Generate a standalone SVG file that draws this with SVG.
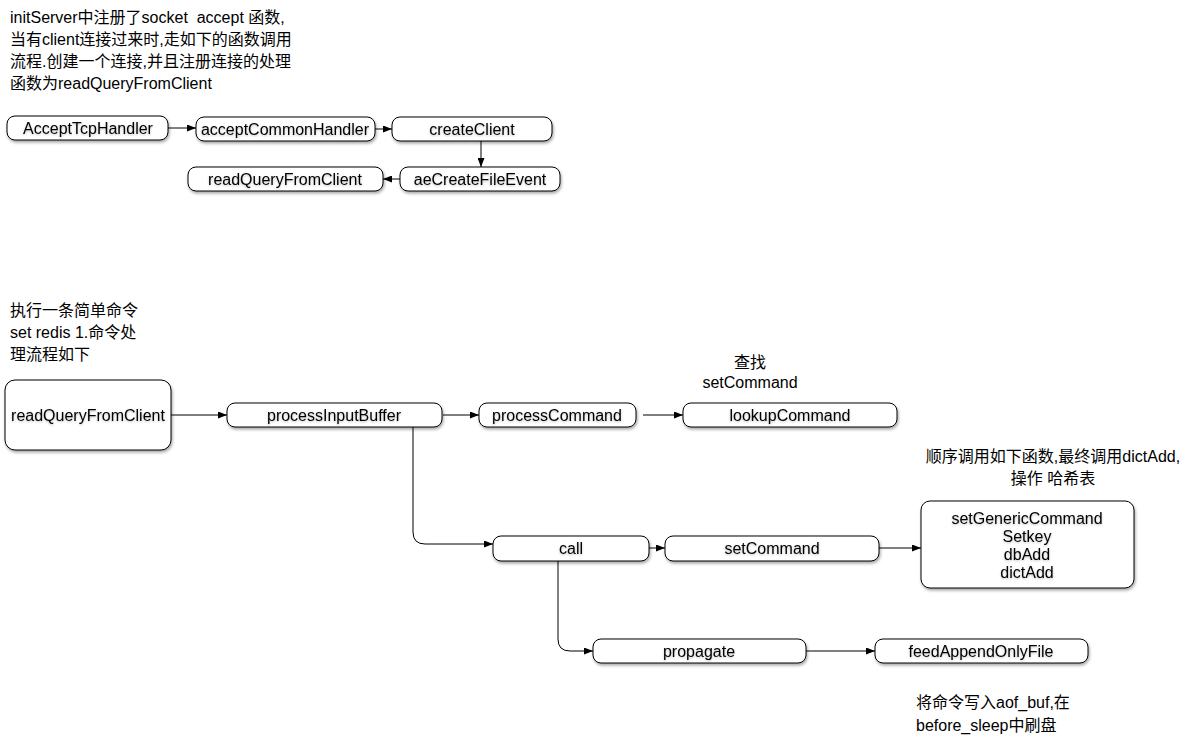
<svg xmlns="http://www.w3.org/2000/svg" width="1188" height="742" viewBox="0 0 1188 742">
<defs>
<filter id="sh" x="-10%" y="-30%" width="120%" height="160%">
<feDropShadow dx="1" dy="2" stdDeviation="1.5" flood-color="#000" flood-opacity="0.35"/>
</filter>
<filter id="ts" x="-5%" y="-30%" width="110%" height="160%">
<feDropShadow dx="0" dy="1" stdDeviation="0.8" flood-color="#000" flood-opacity="0.25"/>
</filter>
<marker id="ar" markerWidth="9" markerHeight="7" refX="9" refY="3.5" orient="auto" markerUnits="userSpaceOnUse">
<path d="M0,0 L9,3.5 L0,7 Z" fill="#000"/>
</marker>
</defs>
<style>
.box{fill:#fff;stroke:#000;stroke-width:1;filter:url(#sh)}
.t{font-family:"Liberation Sans","Noto Sans CJK SC",sans-serif;font-size:16px;fill:#000;white-space:pre}
.c{text-anchor:middle}
.bt{filter:url(#ts)}
.ln{fill:none;stroke:#000;stroke-width:1;marker-end:url(#ar)}
</style>
<rect width="1188" height="742" fill="#fff"/>
<g id="note1">
<text class="t" x="10" y="23" xml:space="preserve">initServer中注册了socket  accept 函数,</text>
<text class="t" x="10" y="45">当有client连接过来时,走如下的函数调用</text>
<text class="t" x="10" y="67">流程.创建一个连接,并且注册连接的处理</text>
<text class="t" x="10" y="89">函数为readQueryFromClient</text>
</g>
<g id="n-accepttcp"><rect class="box" x="7" y="116" width="161" height="24" rx="8"/><text class="t c bt" x="88" y="134">AcceptTcpHandler</text></g>
<g id="n-acceptcommon"><rect class="box" x="196" y="117" width="179" height="24" rx="8"/><text class="t c bt" x="285" y="135">acceptCommonHandler</text></g>
<g id="n-createclient"><rect class="box" x="392" y="117" width="160" height="24" rx="8"/><text class="t c bt" x="472" y="135">createClient</text></g>
<g id="n-aecreate"><rect class="box" x="400" y="167" width="160" height="24" rx="8"/><text class="t c bt" x="480" y="185">aeCreateFileEvent</text></g>
<g id="n-readquery1"><rect class="box" x="188" y="167" width="195" height="24" rx="8"/><text class="t c bt" x="285" y="185">readQueryFromClient</text></g>
<g id="note2">
<text class="t" x="10" y="316">执行一条简单命令</text>
<text class="t" x="10" y="338">set redis 1.命令处</text>
<text class="t" x="10" y="360">理流程如下</text>
</g>
<g id="n-readquery2"><rect class="box" x="5" y="380" width="166" height="70" rx="10"/><text class="t c bt" x="88" y="421">readQueryFromClient</text></g>
<g id="n-processinput"><rect class="box" x="227" y="403" width="215" height="24" rx="8"/><text class="t c bt" x="334" y="421">processInputBuffer</text></g>
<g id="n-processcommand"><rect class="box" x="479" y="403" width="157" height="24" rx="8"/><text class="t c bt" x="557" y="421">processCommand</text></g>
<g id="n-lookup"><rect class="box" x="683" y="403" width="214" height="24" rx="8"/><text class="t c bt" x="790" y="421">lookupCommand</text></g>
<g id="note3">
<text class="t c" x="750" y="368">查找</text>
<text class="t c" x="750" y="388">setCommand</text>
</g>
<g id="n-call"><rect class="box" x="493" y="536" width="156" height="25" rx="8"/><text class="t c bt" x="571" y="554">call</text></g>
<g id="n-setcommand"><rect class="box" x="665" y="536" width="214" height="25" rx="8"/><text class="t c bt" x="772" y="554">setCommand</text></g>
<g id="note4">
<text class="t c" x="1053" y="462">顺序调用如下函数,最终调用dictAdd,</text>
<text class="t c" x="1053" y="484">操作 哈希表</text>
</g>
<g id="n-setgeneric"><rect class="box" x="921" y="501" width="213" height="87" rx="9"/>
<text class="t c bt" x="1027" y="524">setGenericCommand</text>
<text class="t c bt" x="1027" y="542">Setkey</text>
<text class="t c bt" x="1027" y="560">dbAdd</text>
<text class="t c bt" x="1027" y="578">dictAdd</text>
</g>
<g id="n-propagate"><rect class="box" x="593" y="639" width="213" height="24" rx="8"/><text class="t c bt" x="699" y="657">propagate</text></g>
<g id="n-feed"><rect class="box" x="875" y="639" width="213" height="24" rx="8"/><text class="t c bt" x="981" y="657">feedAppendOnlyFile</text></g>
<g id="note5">
<text class="t" x="916" y="708">将命令写入aof_buf,在</text>
<text class="t" x="916" y="731">before_sleep中刷盘</text>
</g>
<g id="connectors">
<path class="ln" d="M168,128 H196"/>
<path class="ln" d="M375,129 H392"/>
<path class="ln" d="M481,141 V167"/>
<path class="ln" d="M400,179 H383"/>
<path class="ln" d="M171,415 H227"/>
<path class="ln" d="M443,415 H479"/>
<path class="ln" d="M643,415 H683"/>
<path class="ln" d="M413,427 V532 Q413,544 425,544 H493"/>
<path class="ln" d="M649,548 H665"/>
<path class="ln" d="M879,548 L921,548"/>
<path class="ln" d="M558,561 V639 Q558,651 570,651 H593"/>
<path class="ln" d="M806,651 H875"/>
</g>
</svg>
